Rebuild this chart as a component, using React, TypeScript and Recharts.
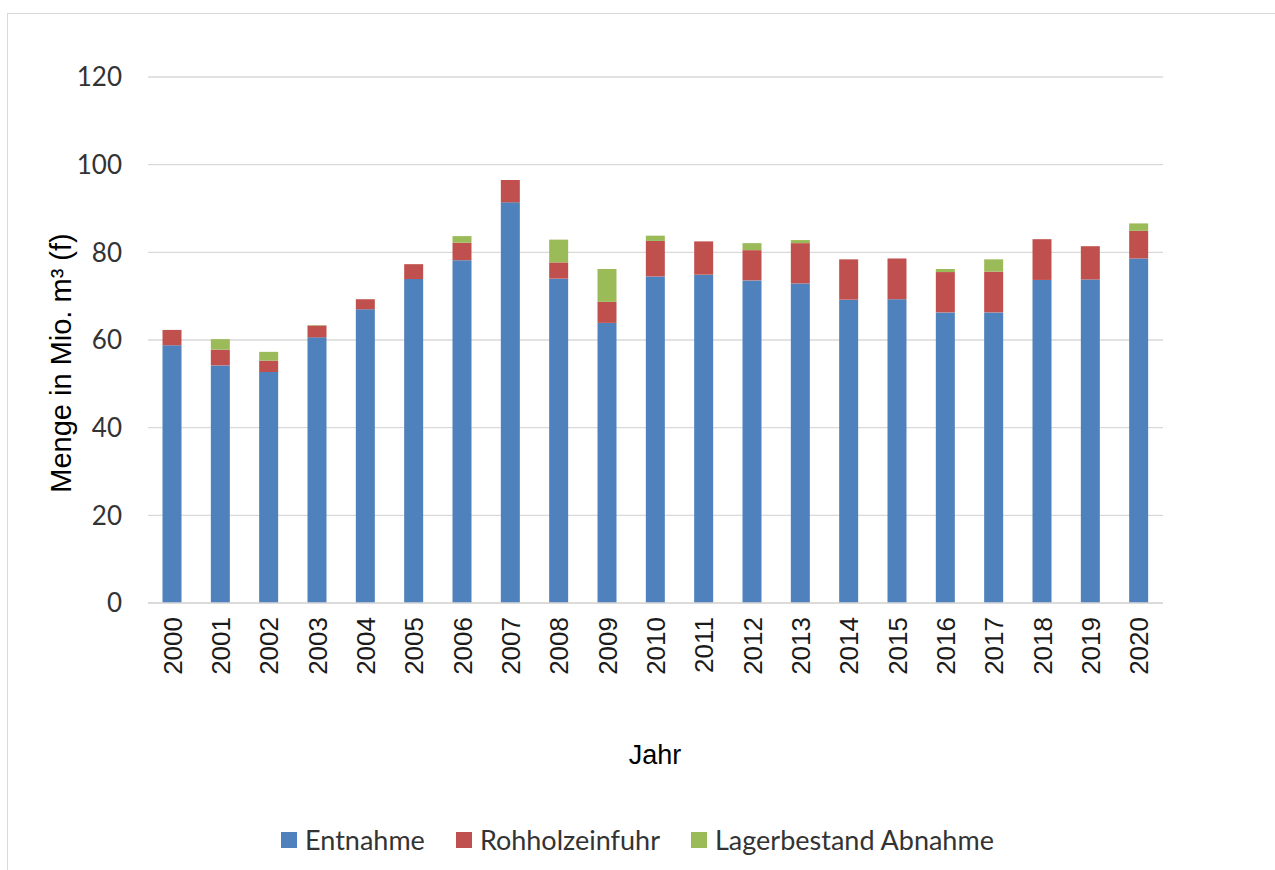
import React from 'react';
import { BarChart, Bar, XAxis, YAxis, CartesianGrid, Label } from 'recharts';

const years = ['2000', '2001', '2002', '2003', '2004', '2005', '2006', '2007', '2008', '2009', '2010',
    '2011', '2012', '2013', '2014', '2015', '2016', '2017', '2018', '2019', '2020'];
const entnahme = [58.8, 54.2, 52.7, 60.6, 67.0, 73.9, 78.2, 91.4, 74.0, 63.9, 74.5,
    74.9, 73.6, 72.9, 69.2, 69.3, 66.3, 66.3, 73.7, 73.8, 78.6];
const rohholzeinfuhr = [3.5, 3.6, 2.6, 2.7, 2.3, 3.4, 4.0, 5.1, 3.7, 4.8, 8.1,
    7.6, 6.9, 9.2, 9.2, 9.3, 9.2, 9.3, 9.3, 7.6, 6.3];
const lagerAbnahme = [0, 2.4, 2.0, 0.1, 0, 0, 1.5, 0, 5.2, 7.5, 1.2,
    0, 1.6, 0.7, 0, 0, 0.7, 2.8, 0, 0, 1.7];
const yTicks = [0, 20, 40, 60, 80, 100, 120];

const data = years.map((jahr, i) => ({
    jahr,
    entnahme: entnahme[i],
    rohholz: rohholzeinfuhr[i],
    lager: lagerAbnahme[i],
}));

const calibriLike = 'Lato, "Open Sans", sans-serif';
const arialLike = '"Liberation Sans", Arial, sans-serif';

const series = [
    { key: 'entnahme', name: 'Entnahme', color: '#4F81BD' },
    { key: 'rohholz', name: 'Rohholzeinfuhr', color: '#C0504D' },
    { key: 'lager', name: 'Lagerbestand Abnahme', color: '#9BBB59' },
];

function YearTick({ x, y, payload }: any) {
    return (
        <text
            transform={`translate(${x}, ${y + 12}) rotate(-90)`}
            textAnchor="end"
            dy="0.36em"
            fill="#1a1a1a"
            fontSize={26}
            fontFamily={arialLike}
        >
            {payload.value}
        </text>
    );
}

function ChartLegend() {
    return (
        <div
            style={{
                position: 'absolute', left: 0, top: 824, width: 1275, display: 'flex', justifyContent: 'center',
                gap: 31, fontFamily: calibriLike, fontSize: 27, color: '#333', lineHeight: '32px',
            }}
        >
            {series.map((s) => (
                <div key={s.key} style={{ display: 'flex', alignItems: 'center' }}>
                    <span style={{ width: 16, height: 16, background: s.color, marginRight: 8, display: 'inline-block' }} />
                    <span>{s.name}</span>
                </div>
            ))}
        </div>
    );
}

export default function App() {
    return (
        <div style={{ position: 'absolute', left: 0, top: 0, width: 1275, height: 870, overflow: 'hidden', background: '#fff' }}>
            <div style={{ position: 'absolute', left: 7, top: 13, width: 1300, height: 900, border: '1px solid #d9d9d9' }} />
            <div style={{ position: 'absolute', left: 0, top: 0 }}>
                <BarChart
                    width={1275}
                    height={870}
                    data={data}
                    margin={{ top: 77, right: 112, left: 0, bottom: 187 }}
                    barCategoryGap="30%"
                >
                    <CartesianGrid vertical={false} stroke="#d9d9d9" strokeWidth={1.3} />
                    <XAxis
                        dataKey="jahr"
                        axisLine={{ stroke: '#d9d9d9', strokeWidth: 1.3 }}
                        tickLine={false}
                        tickSize={0}
                        height={80}
                        interval={0}
                        tick={<YearTick />}
                    >
                        <Label
                            content={() => (
                                <text x={655} y={764} textAnchor="middle" fontSize={27} fontFamily={arialLike} fill="#000">
                                    Jahr
                                </text>
                            )}
                        />
                    </XAxis>
                    <YAxis
                        width={148}
                        domain={[0, 120]}
                        ticks={yTicks}
                        axisLine={false}
                        tickLine={false}
                        tickMargin={20}
                        tick={{ fill: '#333', fontSize: 26, fontFamily: calibriLike }}
                    >
                        <Label
                            content={() => (
                                <text
                                    transform="translate(71, 363) rotate(-90)"
                                    textAnchor="middle"
                                    fontSize={29}
                                    fontFamily={arialLike}
                                    fill="#000"
                                >
                                    Menge in Mio. m³ (f)
                                </text>
                            )}
                        />
                    </YAxis>
                    {series.map((s) => (
                        <Bar key={s.key} dataKey={s.key} name={s.name} stackId="a" fill={s.color} isAnimationActive={false} />
                    ))}
                </BarChart>
            </div>
            <ChartLegend />
        </div>
    );
}
